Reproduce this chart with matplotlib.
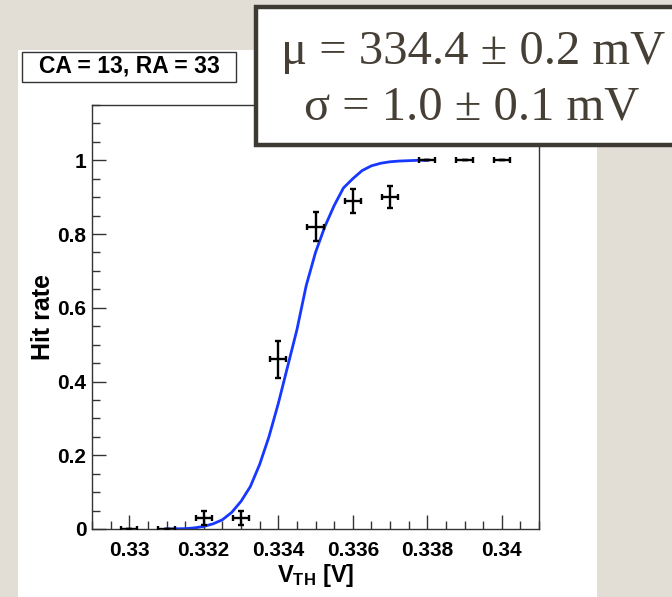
import matplotlib
matplotlib.use("Agg")
import matplotlib.pyplot as plt
from matplotlib.patches import Rectangle
from matplotlib.ticker import MultipleLocator

plt.rcParams['font.family'] = ['Liberation Sans', 'DejaVu Sans']
plt.rcParams['mathtext.fontset'] = 'custom'
plt.rcParams['mathtext.rm'] = 'Liberation Sans'
plt.rcParams['mathtext.bf'] = 'Liberation Sans:bold'

# measured hit rate per threshold bin
v_th = [0.330, 0.331, 0.332, 0.333, 0.334, 0.335, 0.336, 0.337, 0.338, 0.339, 0.340]
hit_rate = [0.0, 0.0, 0.03, 0.03, 0.46, 0.82, 0.89, 0.90, 1.0, 1.0, 1.0]
hit_err = [0.0, 0.0, 0.02, 0.02, 0.05, 0.04, 0.033, 0.03, 0.0, 0.0, 0.0]
v_err = [0.00022] * len(v_th)

# fitted curve
fit_x = [0.33100, 0.33125, 0.33150, 0.33175, 0.33200, 0.33225, 0.33250, 0.33275,
         0.33300, 0.33325, 0.33350, 0.33375, 0.33400, 0.33425, 0.33450, 0.33475,
         0.33500, 0.33525, 0.33550, 0.33575, 0.33600, 0.33625, 0.33650, 0.33675,
         0.33700, 0.33725, 0.33750, 0.33775, 0.33800]
fit_y = [0.000, 0.0005, 0.001, 0.003, 0.007, 0.014, 0.025, 0.045,
         0.075, 0.115, 0.175, 0.25, 0.34, 0.44, 0.54, 0.66,
         0.75, 0.82, 0.877, 0.925, 0.95, 0.972, 0.985, 0.992,
         0.996, 0.998, 0.999, 1.0, 1.0]

x_ticks = [0.330, 0.332, 0.334, 0.336, 0.338, 0.340]
x_labels = ['0.33', '0.332', '0.334', '0.336', '0.338', '0.34']
y_ticks = [0, 0.2, 0.4, 0.6, 0.8, 1]
y_labels = ['0', '0.2', '0.4', '0.6', '0.8', '1']

fig = plt.figure(figsize=(6.72, 5.97), dpi=100)
fig.patch.set_facecolor('#e3ded5')

# white canvas (ROOT pad)
bg = fig.add_axes([18/672, 0, (597-18)/672, 1-50/597], zorder=-1)
bg.set_facecolor('white')
bg.set_axis_off()
bg.add_patch(Rectangle((0, 0), 1, 1, transform=bg.transAxes, facecolor='white', edgecolor='none'))

ax = fig.add_axes([92/672, 1-529/597, (539-92)/672, (529-105)/597], zorder=1)
ax.set_facecolor('none')
ax.plot(fit_x, fit_y, '-', color='#1638ff', lw=2.0, zorder=2)
ax.errorbar(v_th, hit_rate, yerr=hit_err, xerr=v_err, fmt='none', ecolor='black',
            elinewidth=1.7, capsize=2, capthick=1.7, zorder=3)

ax.set_xlim(0.329, 0.341)
ax.set_ylim(0, 1.15)
ax.set_xticks(x_ticks)
ax.set_xticklabels(x_labels)
ax.set_yticks(y_ticks)
ax.set_yticklabels(y_labels)
ax.xaxis.set_minor_locator(MultipleLocator(0.0005))
ax.yaxis.set_minor_locator(MultipleLocator(0.05))
ax.tick_params(which='both', direction='in', color='#333333', width=1)
ax.tick_params(which='major', length=10)
ax.tick_params(which='minor', length=6)
ax.tick_params(axis='x', which='major', pad=9, labelsize=15)
ax.tick_params(axis='y', which='major', pad=4, labelsize=15)
for lab in ax.get_xticklabels() + ax.get_yticklabels():
    lab.set_fontweight('bold')
for sp in ax.spines.values():
    sp.set_color('#333333')
    sp.set_linewidth(1)

ax.set_xlabel(r'$\mathbf{V_{TH}}$ [V]', fontsize=17, fontweight='bold', labelpad=1)
ax.set_ylabel('Hit rate', fontsize=18, fontweight='bold', labelpad=2)

# pad label
fig.patches.append(Rectangle((22/672, 1-82/597), 214/672, 30/597,
                             transform=fig.transFigure, facecolor='white',
                             edgecolor='#333333', lw=1, zorder=4))
fig.text(129/672, 1-66/597, 'CA = 13, RA = 33', fontsize=16.5, fontweight='bold',
         ha='center', va='center', zorder=5)

# fit results box
fig.patches.append(Rectangle((256/672, 1-145/597), 440/672, 138/597,
                             transform=fig.transFigure, facecolor='white',
                             edgecolor='#3e3a33', lw=3.2, zorder=5, clip_on=False))
fig.text(473/672, 1-52/597, 'μ = 334.4 ± 0.2 mV', fontsize=35, family='Liberation Serif',
         color='#463f36', ha='center', va='center', zorder=6)
fig.text(472/672, 1-108/597, 'σ = 1.0 ± 0.1 mV', fontsize=35, family='Liberation Serif',
         color='#463f36', ha='center', va='center', zorder=6)

fig.savefig('out.png', dpi=100, facecolor=fig.get_facecolor())
